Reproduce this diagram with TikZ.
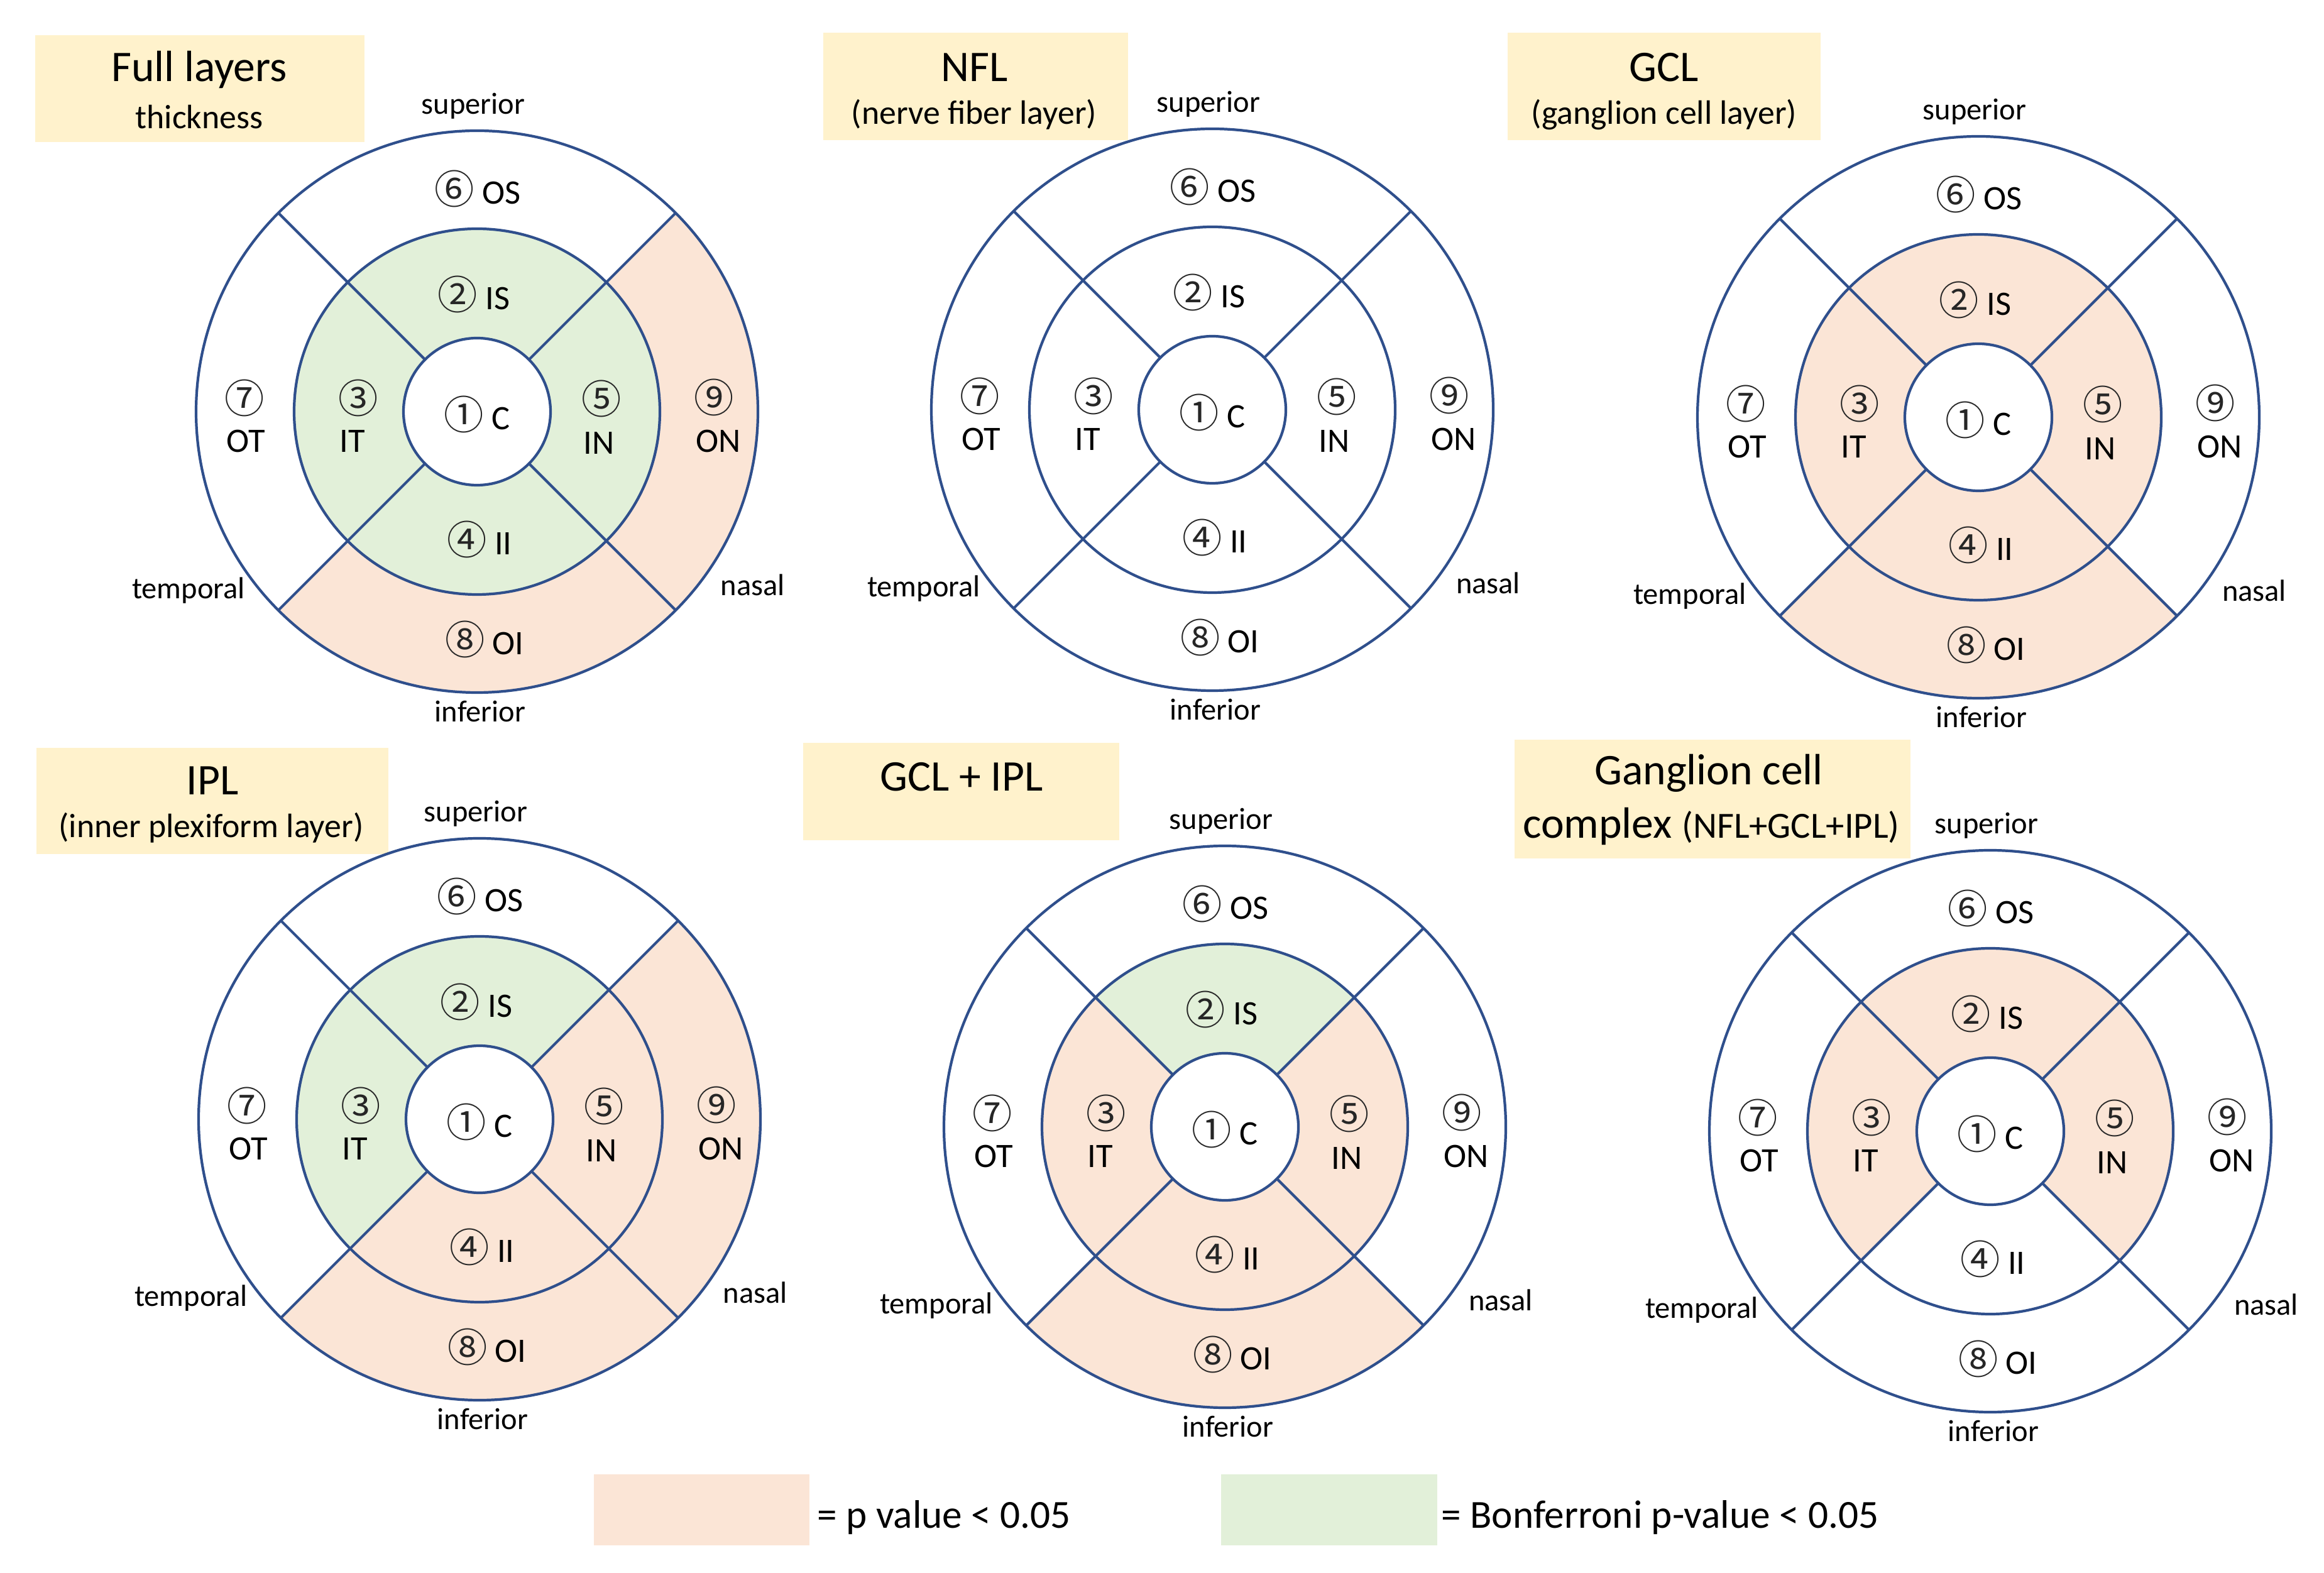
\documentclass[tikz,border=0pt]{standalone}
\usepackage{fontspec}
\setmainfont{Carlito}
\newfontfamily\circfont{Noto Sans CJK JP}
\definecolor{linec}{HTML}{2F4F8C}
\definecolor{pk}{HTML}{FBE5D6}
\definecolor{gr}{HTML}{E2F0D9}
\definecolor{titlec}{HTML}{FFF2CC}
\newcommand{\cn}[1]{{\circfont\fontsize{18}{18}\selectfont\color{black!85}#1}}
\tikzset{
  ring/.style={draw=linec, line width=1.2pt},
  region/.style={font=\fontsize{15.5}{18}\selectfont, inner sep=0pt},
  side/.style={font=\fontsize{13.8}{16}\selectfont, inner sep=0pt},
  head/.style={font=\fontsize{19.8}{22}\selectfont, inner sep=0pt},
  subhead/.style={font=\fontsize{15.3}{18}\selectfont, inner sep=0pt},
  legend/.style={font=\fontsize{18}{20}\selectfont, inner sep=0pt, anchor=west}
}
\begin{document}
\begin{tikzpicture}
    \useasboundingbox (0,0) rectangle (36.98,25.02);
    % title boxes
    \fill[titlec] (0.56,22.76) rectangle (5.80,24.46);
    \node[head] (t1a) at (3.17,23.91) {Full layers};
    \node[subhead] (t1b) at (3.17,23.16) {thickness};
    \fill[titlec] (13.10,22.79) rectangle (17.95,24.50);
    \node[head] (t2a) at (15.51,23.95) {NFL};
    \node[subhead] (t2b) at (15.50,23.20) {(nerve fiber layer)};
    \fill[titlec] (23.99,22.79) rectangle (28.97,24.50);
    \node[head] (t3a) at (26.48,23.95) {GCL};
    \node[subhead] (t3b) at (26.48,23.20) {(ganglion cell layer)};
    \fill[titlec] (0.58,11.43) rectangle (6.18,13.12);
    \node[head] (t4a) at (3.38,12.60) {IPL};
    \node[subhead] (t4b) at (3.36,11.85) {(inner plexiform layer)};
    \fill[titlec] (12.78,11.65) rectangle (17.81,13.20);
    \node[head] (t5a) at (15.30,12.66) {GCL + IPL};
    \fill[titlec] (24.10,11.36) rectangle (30.40,13.25);
    \node[head] (t6a) at (27.19,12.72) {Ganglion cell};
    \node[head] (t6b) at (27.23,11.875) {complex {\fontsize{16.7}{18}\selectfont (NFL+GCL+IPL)}};
    % the six charts
    \foreach \n/\cx/\cy/\qa/\qb/\qc/\qd/\ra/\rb/\rc/\rd in {
        1/7.59/18.47/gr/gr/gr/gr/white/white/pk/pk,
        2/19.29/18.50/white/white/white/white/white/white/white/white,
        3/31.48/18.38/pk/pk/pk/pk/white/white/pk/white,
        4/7.63/7.21/gr/gr/pk/pk/white/white/pk/pk,
        5/19.49/7.09/gr/pk/pk/pk/white/white/pk/white,
        6/31.67/7.02/pk/pk/white/pk/white/white/white/white}{
      \begin{scope}[shift={(\cx,\cy)}]
        \foreach \col/\a in {\ra/45,\rb/135,\rc/225,\rd/315}
          \fill[\col] (0,0) -- (\a:4.47) arc[start angle=\a, end angle=\a+90, radius=4.47] -- cycle;
        \foreach \col/\a in {\qa/45,\qb/135,\qc/225,\qd/315}
          \fill[\col] (0,0) -- (\a:2.91) arc[start angle=\a, end angle=\a+90, radius=2.91] -- cycle;
        \draw[ring] (0,0) circle[radius=4.47];
        \draw[ring] (0,0) circle[radius=2.91];
        \draw[ring, fill=white] (0,0) circle[radius=1.17];
        \foreach \a in {45,135,225,315}
          \draw[ring] (\a:1.17) -- (\a:4.47);
        % region labels
        \node[region] (c\n) at (0,-0.04) {\cn{①} C};
        \node[region] (is\n) at (-0.05,1.87) {\cn{②} IS};
        \node[region] (os\n) at (0.01,3.55) {\cn{⑥} OS};
        \node[region] (ii\n) at (0.04,-2.03) {\cn{④} II};
        \node[region] (oi\n) at (0.12,-3.62) {\cn{⑧} OI};
        \node[region] (itn\n) at (-1.89,0.22) {\cn{③}};
        \node[region] (it\n) at (-1.98,-0.47) {IT};
        \node[region] (inn\n) at (1.98,0.21) {\cn{⑤}};
        \node[region] (in\n) at (1.94,-0.50) {IN};
        \node[region] (otn\n) at (-3.70,0.22) {\cn{⑦}};
        \node[region] (ot\n) at (-3.68,-0.47) {OT};
        \node[region] (onn\n) at (3.77,0.23) {\cn{⑨}};
        \node[region] (on\n) at (3.84,-0.47) {ON};
        % directions
        \node[side] (sup\n) at (-0.06,4.86) {superior};
        \node[side] (inf\n) at (0.05,-4.77) {inferior};
        \node[side] (tem\n) at (-4.59,-2.85) {temporal};
        \node[side] (nas\n) at (4.39,-2.76) {nasal};
      \end{scope}
    }
    % legend
    \fill[pk] (9.45,0.43) rectangle (12.88,1.56);
    \node[legend] (lp) at (13.00,0.87) {= p value < 0.05};
    \fill[gr] (19.43,0.43) rectangle (22.87,1.56);
    \node[legend] (lb) at (22.93,0.87) {= Bonferroni p-value < 0.05};
\end{tikzpicture}
\end{document}
